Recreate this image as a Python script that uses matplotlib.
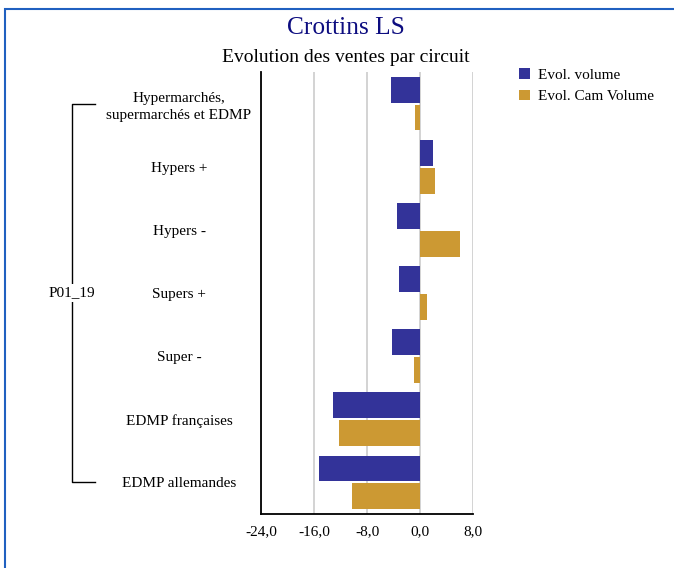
import matplotlib
matplotlib.use("Agg")
import matplotlib.pyplot as plt
from matplotlib.transforms import blended_transform_factory
from matplotlib.ticker import FuncFormatter
from matplotlib.patches import Rectangle
import numpy as np

categories = ["Hypermarchés,\nsupermarchés et EDMP", "Hypers +", "Hypers -", "Supers +",
              "Super -", "EDMP françaises", "EDMP allemandes"]
evol_volume = [-4.4, 2.0, -3.5, -3.2, -4.3, -13.2, -15.2]
evol_cam_volume = [-0.8, 2.3, 6.1, 1.1, -0.9, -12.3, -10.2]
series_names = ["Evol. volume", "Evol. Cam Volume"]
group_label = "P01_19"
x_ticks = [-24, -16, -8, 0, 8]

BLUE = "#333399"
GOLD = "#CC9933"
FONT = "Liberation Serif"

plt.rcParams["font.family"] = [FONT, "DejaVu Serif"]

fig = plt.figure(figsize=(6.74, 5.68), dpi=100)
W, H = 674, 568
ax = fig.add_axes([261 / W, 1 - 514 / H, (473 - 261) / W, (514 - 72) / H])

y = np.arange(len(categories))
bh = 0.41
off = 0.22
ax.barh(y - off, evol_volume, height=bh, color=BLUE, label=series_names[0], zorder=3)
ax.barh(y + off, evol_cam_volume, height=bh, color=GOLD, label=series_names[1], zorder=3)

ax.set_xlim(-24, 8)
ax.set_ylim(len(categories) - 0.5, -0.5)
ax.set_xticks(x_ticks)
ax.xaxis.set_major_formatter(FuncFormatter(lambda v, p: f"{v:.1f}".replace(".", ",")))
ax.tick_params(axis="x", length=0, pad=8, labelsize=11)
ax.grid(axis="x", color="#cccccc", linewidth=1.2, zorder=0)
ax.set_axisbelow(True)

ax.set_yticks(y)
ax.set_yticklabels(categories, fontsize=11, linespacing=1.35)
ax.tick_params(axis="y", length=0, pad=59)
for lbl in ax.get_yticklabels():
    lbl.set_horizontalalignment("center")
    lbl.set_multialignment("center")

for s in ["top", "right"]:
    ax.spines[s].set_visible(False)
for s in ["left", "bottom"]:
    ax.spines[s].set_color("black")
    ax.spines[s].set_linewidth(1.3)

# bracket for group label
tr = blended_transform_factory(fig.transFigure, ax.transData)
xb = 72 / W
xe = 95 / W
ax.plot([xe, xb, xb, xe], [y[0], y[0], y[-1], y[-1]], color="black", lw=1,
        transform=tr, clip_on=False)
ax.text(xb, (y[0] + y[-1]) / 2, group_label, transform=tr, ha="center", va="center",
        fontsize=11, bbox=dict(facecolor="white", edgecolor="none", pad=2))

# titles
fig.text(346 / W, 1 - 28 / H, "Crottins LS", ha="center", va="center", fontsize=18.3,
         color="#0d0d80")
fig.text(346 / W, 1 - 57 / H, "Evolution des ventes par circuit", ha="center", va="center",
         fontsize=14, color="black")

# legend
leg = fig.legend(loc="upper left", bbox_to_anchor=(513 / W, 1 - 62 / H), frameon=False,
                 fontsize=11, handlelength=0.72, handleheight=0.72, handletextpad=0.5,
                 labelspacing=0.5, borderaxespad=0)

# blue frame
fig.add_artist(Rectangle((5 / W, -0.1), 1.2, 1 - 9.5 / H + 0.1, transform=fig.transFigure,
                         facecolor="none", edgecolor="#2060c0", linewidth=1.5))

fig.savefig("out.png", dpi=100)
